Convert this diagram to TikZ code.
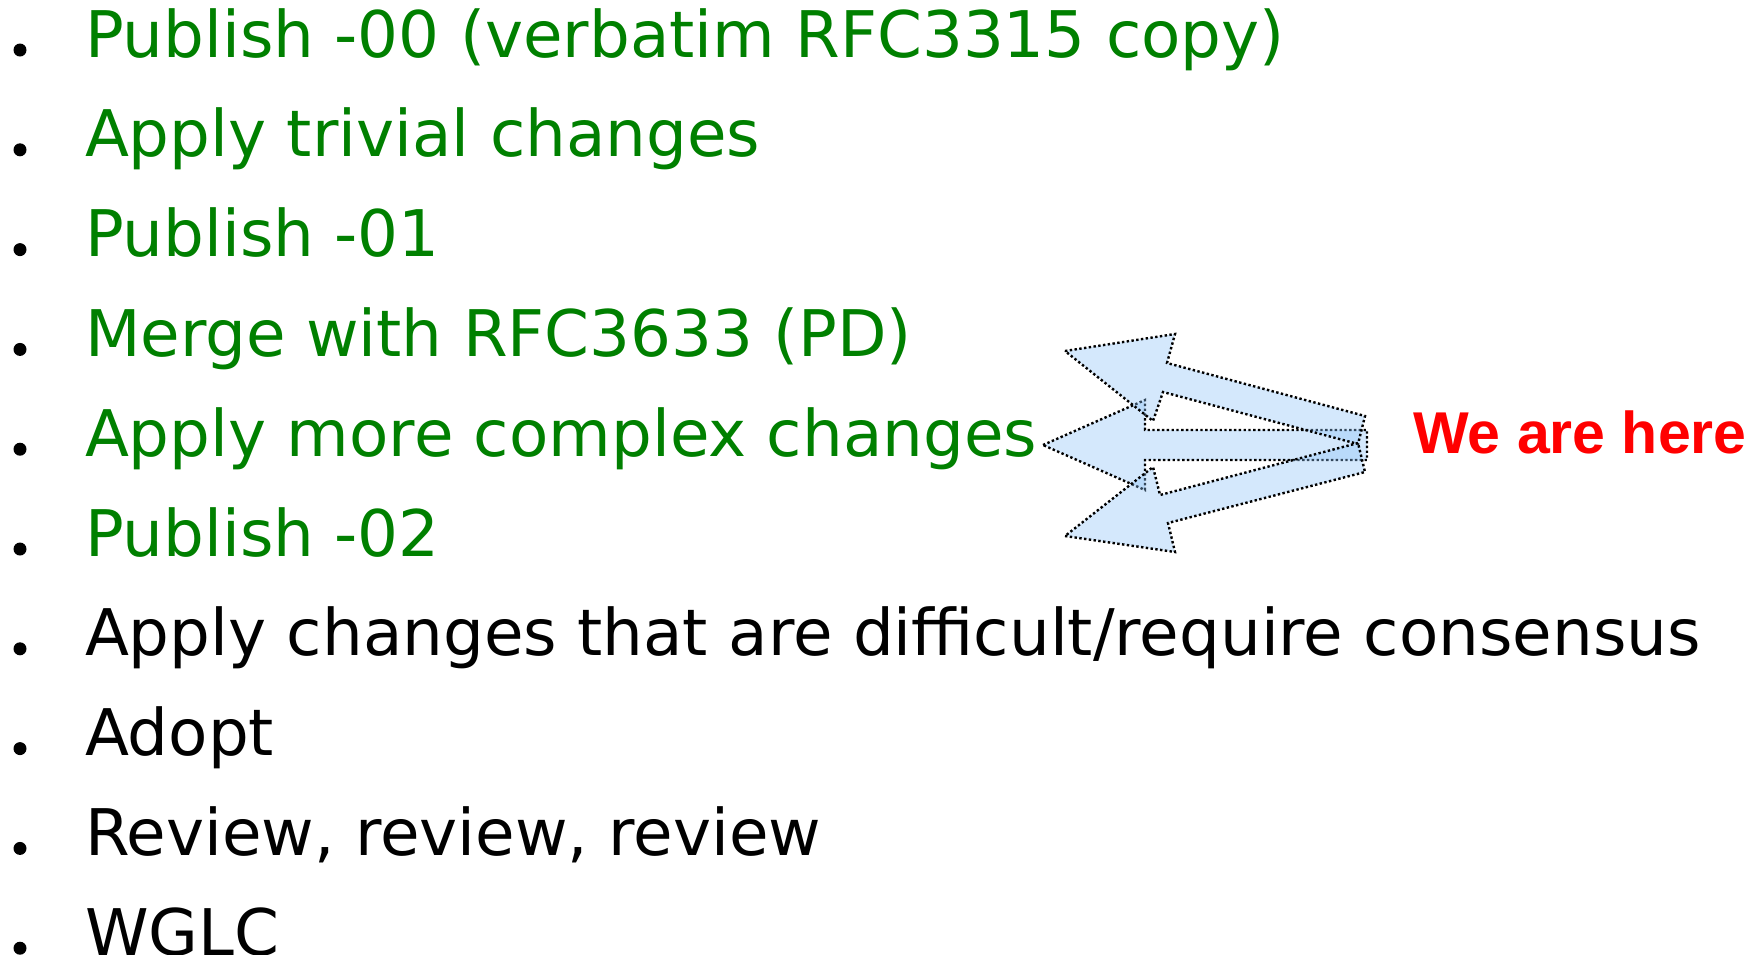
\documentclass[tikz,border=0pt]{standalone}
\usepackage{fontspec}
\setmainfont{DejaVu Sans}
\newfontfamily\arialfont{Liberation Sans}
\definecolor{itemgreen}{RGB}{0,128,0}
\definecolor{herered}{RGB}{255,0,0}
\definecolor{arrowfill}{RGB}{139,193,247}
\begin{document}
\begin{tikzpicture}[x=1pt,y=-1pt,
  item/.style={anchor=base west,inner sep=0pt,outer sep=0pt,font=\fontsize{64.3}{78}\selectfont},
  done/.style={item,text=itemgreen},
  todo/.style={item,text=black},
  bul/.style={circle,fill=black,inner sep=0pt,minimum size=13pt},
  bigarrow/.style={fill=arrowfill,fill opacity=0.37,draw=black,dash pattern=on 2.4pt off 2.4pt,line width=2.4pt,line join=miter},
  here/.style={anchor=base west,inner sep=0pt,text=herered,font=\arialfont\bfseries\fontsize{59}{70}\selectfont}]
\useasboundingbox (0,0) rectangle (1760,954);
\foreach \t/\s [count=\i from 0] in {
  {Publish -00 (verbatim RFC3315 copy)}/done,
  {Apply trivial changes}/done,
  {Publish -01}/done,
  {Merge with RFC3633 (PD)}/done,
  {Apply more complex changes}/done,
  {Publish -02}/done,
  {Apply changes that are difficult/require consensus}/todo,
  {Adopt}/todo,
  {Review, review, review}/todo,
  {WGLC}/todo} {
  \node[\s] (l\i) at (85,{57+99.8*\i}) {\t};
  \node[bul] (b\i) at (20,{50+99.8*\i}) {};
}
% middle arrow
\draw[bigarrow] (1043,445) -- (1145,400) -- (1145,430) -- (1367,430) -- (1367,460) -- (1145,460) -- (1145,490) -- cycle;
% top arrow
\draw[bigarrow] (1065,351) -- (1175,334) -- (1167,363) -- (1365,416) -- (1358,444) -- (1163,392) -- (1153,421) -- cycle;
% bottom arrow
\draw[bigarrow] (1065,536) -- (1175,552) -- (1168,523) -- (1365,472) -- (1358,443) -- (1160,495) -- (1153,467) -- cycle;
\node[here] (here) at (1413,453) {We are here};
\end{tikzpicture}
\end{document}
